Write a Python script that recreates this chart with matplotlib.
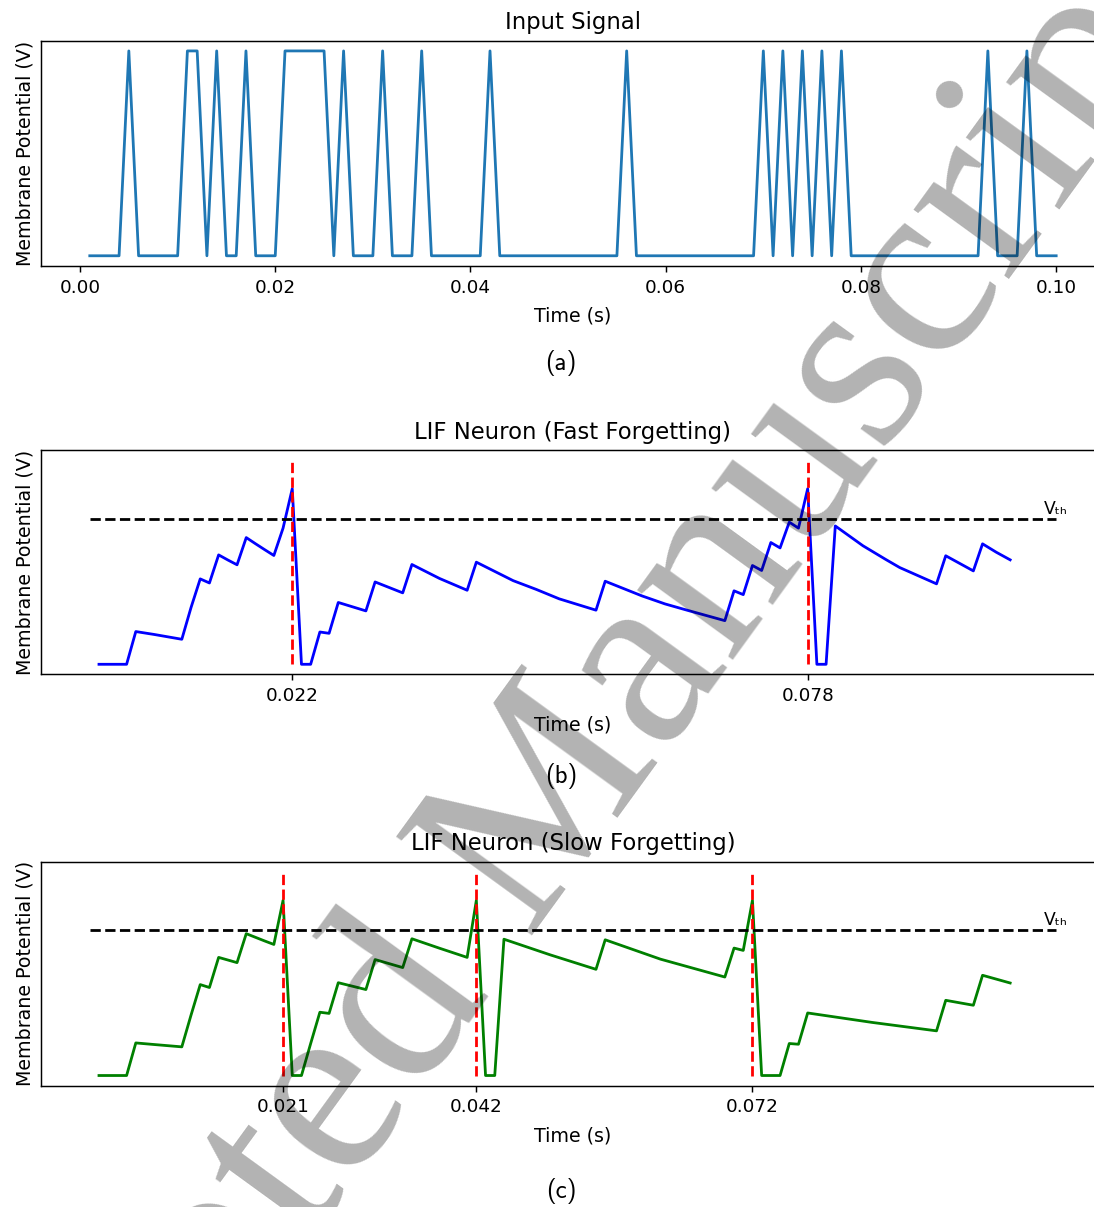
import numpy as np
import matplotlib
matplotlib.use("Agg")
import matplotlib.pyplot as plt

# time axis in milliseconds, one sample per ms
t_ms = np.arange(1, 101)
# input spike times (ms)
spike_in_ms = [5, 11, 12, 14, 17, 21, 22, 23, 24, 25, 27, 31, 35, 42,
               56, 70, 72, 74, 76, 78, 93, 97]

# fast forgetting neuron: (ms, potential) vertices
fast_t = [1, 4, 5, 7, 10, 11, 12, 13, 14, 15, 16, 17, 18, 19, 20, 21, 22, 23, 24,
          25, 26, 27, 30, 31, 34, 35, 38, 41, 42, 46, 48.5, 51, 55, 56, 60, 62.5, 65, 69,
          70, 71, 72, 73, 74, 75, 76, 77, 78, 79, 80, 81, 84, 86.5, 88, 92, 93, 96, 97,
          98.5, 100]
fast_v = [0, 0, 0.225, 0.205, 0.172, 0.39, 0.587, 0.559, 0.752, 0.717, 0.684, 0.871,
          0.829, 0.788, 0.748, 0.936, 1.207, 0, 0,
          0.222, 0.213, 0.425, 0.367, 0.566, 0.491, 0.686, 0.59, 0.509, 0.702, 0.575,
          0.515, 0.45, 0.372, 0.571, 0.47, 0.415, 0.37, 0.30,
          0.505, 0.479, 0.679, 0.645, 0.837, 0.80, 0.977, 0.936, 1.207, 0, 0, 0.951,
          0.815, 0.72, 0.665, 0.553, 0.746, 0.642, 0.828, 0.77, 0.718]
fast_fire_ms = [22, 78]

# slow forgetting neuron
slow_t = [1, 4, 5, 7, 10, 11, 12, 13, 14, 15, 16, 17, 18, 19, 20, 21, 22, 23, 24,
          25, 26, 27, 30, 31, 34, 35, 38, 41, 42, 43, 44, 45, 50, 55, 56, 62, 69,
          70, 71, 72, 73, 74, 75, 76, 77, 78, 85, 92, 93, 96, 97, 100]
slow_v = [0, 0, 0.224, 0.213, 0.197, 0.415, 0.625, 0.605, 0.812, 0.794, 0.776, 0.975,
          0.95, 0.925, 0.901, 1.204, 0, 0, 0.22,
          0.435, 0.427, 0.638, 0.591, 0.797, 0.742, 0.94, 0.875, 0.812, 1.204, 0, 0,
          0.937, 0.83, 0.73, 0.933, 0.80, 0.677,
          0.876, 0.86, 1.204, 0, 0, 0, 0.22, 0.215, 0.43, 0.365, 0.307, 0.517, 0.483,
          0.689, 0.636]
slow_fire_ms = [21, 42, 72]

v_th = 1.0
v_top = 1.4

plt.rcParams['font.family'] = 'DejaVu Sans'
plt.rcParams['axes.linewidth'] = 1.05
plt.rcParams['xtick.major.size'] = 4.6
plt.rcParams['xtick.major.width'] = 1.05
plt.rcParams['xtick.major.pad'] = 4.6
plt.rcParams['xtick.labelsize'] = 13.2

fig = plt.figure(figsize=(10.94, 12.07), dpi=100)

left, width = 0.0379, 0.9717
ax_a = fig.add_axes([left, 0.7796, width, 0.1867])
ax_b = fig.add_axes([left, 0.4412, width, 0.1856])
ax_c = fig.add_axes([left, 0.1005, width, 0.1856])

# (a) input spike train
t = t_ms / 1000.0
inp = np.isin(t_ms, spike_in_ms).astype(float)
ax_a.plot(t, inp, color='#1f77b4', lw=2)
ax_a.set_title('Input Signal', fontsize=16.4, pad=8.5)


def neuron_panel(ax, tt, vv, fire_ms, color, title):
    tt = np.array(tt) / 1000.0
    ax.plot(tt, vv, color=color, lw=2)
    ax.plot([0, 0.105], [v_th, v_th], 'k--', lw=2)
    fire = np.array(fire_ms) / 1000.0
    ax.vlines(fire, 0, v_top, colors='red', linestyles='--', lw=2)
    ax.text(0.1037, v_th + 0.032, 'V\u209c\u2095', fontsize=12.4, va='baseline')
    ax.set_xticks(fire)
    ax.set_xticklabels(['%.3f' % f for f in fire])
    ax.set_title(title, fontsize=16.4, pad=8.5)


neuron_panel(ax_b, fast_t, fast_v, fast_fire_ms, 'blue', 'LIF Neuron (Fast Forgetting)')
neuron_panel(ax_c, slow_t, slow_v, slow_fire_ms, 'green', 'LIF Neuron (Slow Forgetting)')

for ax in (ax_a, ax_b, ax_c):
    ax.set_yticks([])
    ax.set_xlabel('Time (s)', fontsize=13.7, labelpad=7.3)
    ax.set_ylabel('Membrane Potential (V)', fontsize=13.7, labelpad=5.3)

for lab, ypix in (('(a)', 363), ('(b)', 776), ('(c)', 1190.7)):
    fig.text(561.3 / 1094, 1 - ypix / 1207, lab, family='cmss10', fontsize=18,
             ha='center', va='center')

# watermark across the page
fig.text(519 / 1094, 1 - 850 / 1207, 'Accepted Manuscript', family='Liberation Serif',
         fontsize=185, rotation=54, rotation_mode='anchor', color='black', alpha=0.3,
         ha='center', va='center', zorder=10)

fig.savefig('out.png', dpi=100, facecolor='white')
